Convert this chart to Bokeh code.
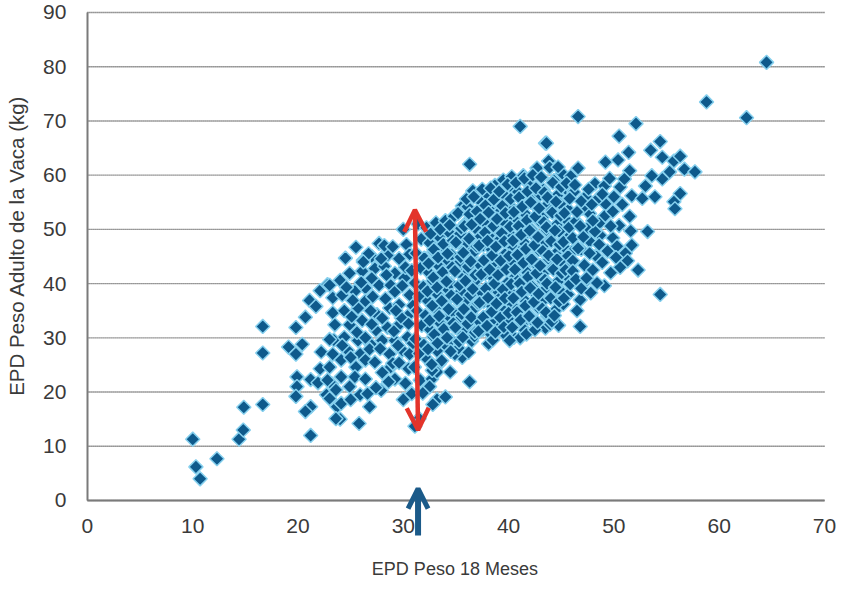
from bokeh.plotting import figure
from bokeh.models import Range1d, Arrow, OpenHead
from bokeh.core.properties import value
from bokeh.embed import file_html
from bokeh.resources import INLINE
import numpy as np

# --- data: EPD Peso 18 Meses (x) vs EPD Peso Adulto de la Vaca (y) ---
x_left = [10.0, 10.3, 10.7, 12.3, 14.4, 14.8, 14.85, 16.65, 16.65, 16.65, 19.8, 20.7, 21.1, 21.7,
          22.1, 22.8, 19.1, 19.8, 20.4, 22.2, 22.1, 23.4, 19.9, 19.9, 19.8, 21.2, 21.9, 23.2,
          22.7, 21.2, 20.7, 23.7, 24.0, 21.2]
y_left = [11.3, 6.2, 4.0, 7.7, 11.3, 13.0, 17.2, 17.7, 27.2, 32.1, 31.9, 33.8, 36.9, 35.8,
          38.7, 39.8, 28.3, 27.0, 28.8, 27.4, 24.3, 29.6, 22.8, 21.0, 19.2, 22.3, 21.7, 21.5,
          19.5, 17.3, 16.4, 17.3, 15.0, 12.0]

x_mid = [24.5, 25.5, 27.7, 28.5, 23.0, 24.0, 24.9, 26.1, 27.3, 28.2, 29.2, 30.1, 23.3, 24.2,
         25.4, 26.4, 27.7, 28.8, 23.3, 24.4, 25.7, 26.4, 27.5, 28.7, 29.6, 30.6, 23.5, 24.9,
         26.1, 27.4, 28.5, 29.6, 23.0, 24.4, 25.7, 26.9, 28.0, 29.2, 30.4, 23.3, 24.7, 25.9,
         26.8, 28.7, 29.9, 23.0, 24.1, 25.5, 26.4, 28.8, 22.8, 24.1, 25.4, 26.4, 29.2, 23.6,
         24.9, 25.9, 23.0, 24.1, 26.8, 23.6, 25.8, 30.8, 31.6, 32.7, 33.2, 32.5, 33.4, 31.5,
         31.1, 30.0, 30.3, 29.6, 30.2, 29.2, 30.4, 29.8, 27.0, 26.2, 28.2, 32.8, 34.0, 33.2,
         35.6, 27.9, 25.0, 29.0]
y_mid = [44.7, 46.7, 47.4, 45.2, 39.7, 40.6, 41.9, 42.3, 42.8, 43.2, 41.9, 41.0, 37.4, 37.9,
         38.6, 39.2, 39.7, 39.7, 34.6, 35.0, 35.5, 36.8, 34.3, 35.5, 36.1, 37.9, 32.4, 32.4,
         33.2, 31.4, 31.9, 32.4, 29.7, 30.1, 29.5, 28.8, 29.5, 29.5, 30.1, 27.0, 27.7, 27.0,
         27.9, 27.0, 27.7, 24.6, 25.9, 24.6, 25.9, 24.6, 22.2, 22.8, 22.8, 22.4, 22.4, 20.4,
         21.0, 19.5, 18.8, 17.9, 17.3, 15.1, 14.2, 19.7, 22.2, 22.4, 18.6, 21.0, 25.2, 15.1,
         13.7, 50.0, 47.2, 44.6, 43.0, 38.5, 34.0, 33.7, 45.0, 44.3, 47.0, 17.7, 19.1, 23.7,
         26.4, 20.3, 18.6, 25.3]

x_mid2 = [26.7, 27.9, 29.0, 30.6, 26.0, 27.0, 28.4, 29.9, 30.8, 25.2, 27.1, 28.3, 29.3, 30.9,
          26.9, 25.6, 27.0, 28.0, 29.1, 30.5, 30.9, 26.4, 27.8, 29.5, 30.6, 27.3, 28.0, 29.6,
          30.5, 30.2, 27.4, 28.6, 26.6, 30.0, 25.0, 24.2, 25.1, 24.6, 26.2]
y_mid2 = [45.5, 44.6, 46.8, 45.4, 40.2, 41.0, 41.6, 39.6, 42.4, 36.9, 37.6, 37.2, 35.0, 35.9,
          35.0, 31.0, 32.5, 33.6, 31.2, 32.6, 29.0, 30.0, 28.0, 28.6, 27.0, 25.5, 23.6, 25.4,
          24.3, 21.6, 20.8, 21.9, 19.7, 18.6, 26.4, 28.6, 33.9, 39.3, 44.0]

core_cols = [31.4, 32.2, 33.1, 34.0, 34.8, 35.6, 36.3, 37.1, 37.9, 38.7, 39.5, 40.3, 41.1,
             41.9, 42.7, 43.5, 44.3, 45.1, 45.9]
core_y = [
    [51.0, 48.2, 45.6, 42.9, 40.1, 37.6, 35.0, 32.3, 29.8, 27.1, 24.6],
    [50.3, 47.5, 44.7, 42.0, 39.4, 36.8, 34.1, 31.5, 28.7, 26.0, 19.8],
    [51.2, 48.6, 45.9, 43.3, 40.5, 38.0, 35.4, 32.8, 30.2, 27.6, 24.0],
    [51.6, 49.5, 46.8, 44.2, 41.6, 39.1, 36.4, 33.9, 31.1, 28.5, 25.8],
    [52.4, 48.0, 45.3, 42.7, 40.0, 37.4, 34.8, 32.1, 29.6, 27.0, 23.7],
    [54.3, 51.1, 49.2, 46.4, 43.8, 41.2, 38.6, 35.9, 33.4, 30.7, 28.1],
    [62.0, 57.1, 54.2, 52.0, 47.6, 44.9, 42.3, 39.7, 37.1, 34.5, 31.8, 29.4, 21.9],
    [55.6, 52.8, 50.1, 48.7, 46.0, 43.4, 40.8, 38.2, 35.6, 33.0, 30.3],
    [56.6, 53.7, 51.3, 48.9, 47.1, 44.5, 41.9, 39.3, 36.7, 34.1, 31.5, 28.9],
    [58.1, 54.7, 52.3, 49.8, 46.3, 43.6, 41.0, 38.4, 35.8, 33.2, 30.6],
    [59.1, 55.9, 53.5, 51.0, 48.2, 45.4, 42.8, 40.1, 37.5, 34.9, 32.0, 30.5],
    [59.7, 57.1, 54.4, 52.1, 49.4, 46.6, 44.0, 41.3, 38.7, 36.1, 33.5, 30.1],
    [69.0, 59.9, 56.9, 54.0, 51.3, 48.5, 45.8, 43.1, 40.5, 37.9, 35.2, 32.6, 30.0],
    [58.4, 55.3, 52.6, 50.0, 47.3, 44.6, 42.0, 39.4, 36.7, 34.1, 31.4],
    [61.3, 56.4, 54.4, 51.5, 48.9, 46.2, 43.5, 40.9, 38.3, 35.6, 33.0],
    [65.9, 62.6, 57.3, 54.7, 52.2, 49.8, 47.2, 44.5, 41.8, 39.2, 36.6, 34.0, 31.8],
    [59.0, 56.2, 53.5, 50.8, 48.1, 45.5, 42.9, 40.3, 37.6, 35.0, 32.5],
    [60.3, 57.5, 54.7, 52.0, 49.6, 46.8, 44.1, 41.5, 38.8, 36.2, 32.3],
    [59.8, 56.9, 53.6, 51.0, 48.4, 45.9, 43.2, 40.6, 38.0],
]
core_cols2 = [32.6, 33.5, 34.4, 35.2, 36.0, 36.7, 37.5, 38.3, 39.1, 39.9, 40.7, 41.5, 42.3,
              43.1, 43.9, 44.7, 45.5]
core_y2 = [
    [49.2, 46.3, 43.7, 41.1, 38.6, 35.9, 33.2, 30.6, 27.9, 25.1],
    [50.0, 47.3, 44.8, 42.1, 39.3, 36.8, 34.0, 31.6, 29.0],
    [50.8, 47.9, 45.5, 43.0, 40.4, 37.8, 35.3, 32.7, 30.0, 27.5],
    [53.0, 50.2, 47.6, 44.9, 42.3, 39.7, 37.1, 34.4, 31.9, 29.3],
    [55.6, 52.8, 50.6, 48.3, 45.7, 43.1, 40.5, 37.9, 35.3, 32.6, 30.1, 27.3],
    [56.0, 53.3, 50.9, 46.9, 44.1, 41.6, 39.0, 36.4, 33.8, 31.0],
    [57.4, 54.4, 51.9, 49.4, 47.0, 44.3, 41.7, 39.1, 36.5, 33.8, 31.2],
    [57.6, 55.5, 53.1, 50.6, 47.9, 45.2, 42.6, 40.0, 37.4, 34.8, 32.2, 29.6],
    [57.0, 54.3, 51.9, 49.3, 46.8, 44.2, 41.6, 38.9, 36.3, 33.7, 31.0],
    [58.3, 55.6, 53.0, 50.5, 47.8, 45.1, 42.6, 39.9, 37.3, 34.6, 32.0, 29.5],
    [58.6, 55.9, 53.2, 50.6, 47.9, 45.3, 42.6, 40.0, 37.3, 34.7, 31.9],
    [59.4, 57.0, 54.2, 51.7, 49.0, 46.4, 43.8, 41.2, 38.5, 35.9, 33.3, 30.7],
    [60.0, 57.6, 55.0, 52.4, 49.8, 47.1, 44.5, 41.9, 39.2, 36.6, 34.0, 31.5],
    [59.6, 56.8, 53.9, 51.3, 48.6, 46.0, 43.3, 40.7, 38.1, 35.4, 32.8],
    [61.4, 58.6, 55.9, 53.1, 50.4, 47.8, 45.2, 42.6, 40.0, 37.3, 34.7, 33.0],
    [61.5, 57.8, 55.1, 52.5, 49.8, 47.2, 44.5, 41.9, 39.3, 36.7, 34.1],
    [58.5, 55.7, 53.0, 50.4, 47.7, 45.1, 42.5, 39.9, 37.3],
]
core_dx = [0.0, 0.3, -0.2, 0.25, -0.3, 0.15, -0.1, 0.35, -0.25, 0.1, -0.35, 0.2, 0.0]

x_right = [46.6, 52.1, 50.5, 54.4, 53.5, 51.4, 50.4, 49.2, 54.6, 55.7, 56.3, 56.7, 57.7, 55.3,
           54.6, 53.6, 53.0, 51.5, 46.6, 48.2, 49.1, 50.6, 51.0, 50.0, 51.7, 52.7, 53.9, 56.3,
           55.7, 55.8, 47.3, 49.2, 47.7, 49.1, 49.9, 51.5, 50.5, 53.2, 48.6, 48.7, 49.9, 49.4,
           51.1, 51.7, 51.3, 52.3, 49.1, 54.4, 46.8, 46.5, 46.8, 47.2, 48.0, 46.1, 46.1, 46.4,
           47.7, 46.1, 46.9, 47.5, 48.3, 48.5, 47.0, 48.2, 49.7, 50.3, 48.9, 50.6, 49.7, 47.3,
           58.8, 62.6, 64.5, 43.6,
           46.3, 46.9, 47.6, 46.5, 47.9, 46.8, 48.0, 47.1, 48.6, 46.6, 47.7, 46.4, 47.4, 48.4,
           46.9, 47.8, 48.9, 49.6, 50.8, 51.6, 50.2]
y_right = [70.8, 69.5, 67.2, 66.2, 64.6, 64.2, 62.8, 62.4, 63.3, 62.6, 63.5, 61.1, 60.6, 60.6,
           59.3, 59.9, 58.0, 60.8, 61.3, 58.4, 58.0, 57.8, 59.3, 56.0, 56.2, 55.7, 56.0, 56.6,
           55.1, 53.8, 56.0, 54.7, 52.9, 52.4, 53.3, 52.4, 50.7, 49.6, 51.1, 48.9, 48.4, 46.0,
           45.6, 47.1, 44.2, 42.5, 39.6, 38.0, 37.0, 35.0, 32.1, 43.4, 42.5, 44.2, 48.4, 51.5,
           47.8, 42.3, 46.3, 50.2, 45.1, 55.7, 53.9, 49.6, 50.6, 46.9, 43.9, 43.0, 42.0, 40.4,
           73.5, 70.6, 80.8, 65.9,
           58.2, 55.2, 57.4, 53.2, 54.6, 50.6, 51.6, 48.6, 47.2, 46.5, 45.6, 40.8, 41.0, 40.1,
           39.1, 38.3, 56.5, 59.4, 54.6, 49.7, 44.8]

x_ticks = [0, 10, 20, 30, 40, 50, 60, 70]
y_ticks = [0, 10, 20, 30, 40, 50, 60, 70, 80, 90]
x_title = "EPD Peso 18 Meses"
y_title = "EPD Peso Adulto de la Vaca (kg)"

xs = list(x_left) + list(x_mid) + list(x_mid2)
ys = list(y_left) + list(y_mid) + list(y_mid2)
for cols, yl in ((core_cols, core_y), (core_cols2, core_y2)):
    for cx, col in zip(cols, yl):
        for j, yv in enumerate(col):
            xs.append(cx + core_dx[j % len(core_dx)])
            ys.append(yv)
xs += x_right
ys += y_right

FONT = "Liberation Sans"
TXT = "#3a3a3a"

# The frame fills the whole figure; axes are pinned at x=0 / y=0 so that the
# blue marker arrow below the x axis can be drawn.
p = figure(width=837, height=579, output_backend="svg", toolbar_location=None,
           x_range=Range1d(-8.26, 71.24), y_range=Range1d(-14.57, 92.21),
           min_border_left=0, min_border_right=0, min_border_top=0, min_border_bottom=0)
p.outline_line_color = None
p.background_fill_color = "white"
p.xgrid.visible = False
p.ygrid.visible = False

# dotted horizontal gridlines at the y ticks
p.segment(x0=[x_ticks[0]] * len(y_ticks), x1=[x_ticks[-1]] * len(y_ticks),
          y0=y_ticks, y1=y_ticks, line_color="#3c3c3c", line_dash="1 1", line_width=1.4)

p.scatter(xs, ys, marker="square", angle=np.pi / 4, size=10,
          fill_color="#0e5a8c", line_color="#86d0ee", line_width=1.5)

for ax in (p.xaxis[0], p.yaxis[0]):
    ax.major_tick_line_color = None
    ax.minor_tick_line_color = None
    ax.axis_line_color = "#7a7a7a"
    ax.axis_line_width = 2
    ax.major_label_text_font = FONT
    ax.major_label_text_font_size = "21px"
    ax.major_label_text_color = TXT

p.xaxis.fixed_location = 0
p.yaxis.fixed_location = 0
p.xaxis.bounds = (x_ticks[0], x_ticks[-1])
p.yaxis.bounds = (y_ticks[0], y_ticks[-1])
p.xaxis.major_label_standoff = 13
p.yaxis.major_label_standoff = 15
p.xaxis.ticker = x_ticks
p.yaxis.ticker = y_ticks

p.text(x=[34.9], y=[-12.55], text=[x_title], text_font=value(FONT),
       text_font_size="18px", text_color=TXT, text_align="center", text_baseline="middle")
p.text(x=[-6.7], y=[47.0], text=[y_title], text_font=value(FONT), angle=np.pi / 2,
       text_font_size="20.5px", text_color=TXT, text_align="center", text_baseline="middle")

red = "#e3342b"
p.add_layout(Arrow(start=OpenHead(line_color=red, line_width=4.5, size=22),
                   end=OpenHead(line_color=red, line_width=4.5, size=22),
                   x_start=31.4, y_start=13.0, x_end=31.1, y_end=53.6,
                   line_color=red, line_width=4.5))
blue = "#1b5a89"
p.add_layout(Arrow(end=OpenHead(line_color=blue, line_width=5, size=20),
                   x_start=31.4, y_start=-6.45, x_end=31.4, y_end=2.2,
                   line_color=blue, line_width=6))

open("out.html", "w").write(file_html(p, INLINE))
